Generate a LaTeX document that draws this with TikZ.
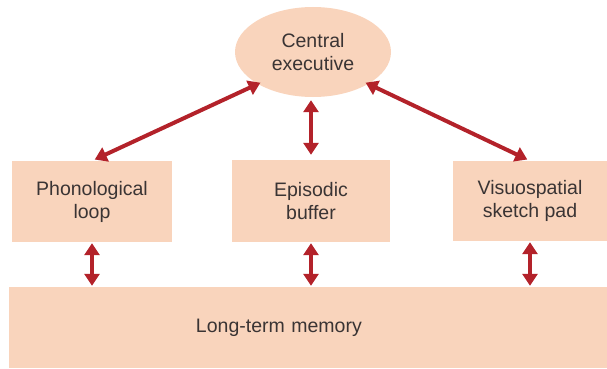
\documentclass[tikz,border=0pt]{standalone}
\usepackage{fontspec}
\setmainfont{Liberation Sans}
\usetikzlibrary{arrows.meta,shapes.geometric}
\definecolor{peach}{HTML}{F9D4BC}
\definecolor{arrred}{HTML}{B3222A}
\definecolor{txt}{HTML}{3A3434}
\begin{document}
\begin{tikzpicture}[x=1pt,y=-1pt,
  box/.style={rectangle,fill=peach,draw=none,inner sep=0pt,align=center,text=txt,font=\fontsize{19.5}{23}\selectfont},
  arr/.style={draw=arrred,line width=4pt,{Triangle[width=15pt,length=12pt]}-{Triangle[width=15pt,length=12pt]}}]
\useasboundingbox (0,0) rectangle (607,369);
\node[box,ellipse,minimum width=156pt,minimum height=90pt] (ce) at (313,52) {Central\\executive};
\node[box,minimum width=160pt,minimum height=81pt] (pl) at (92,201.5) {Phonological\\loop};
\node[box,minimum width=158pt,minimum height=82pt] (eb) at (311,201) {Episodic\\buffer};
\node[box,minimum width=154pt,minimum height=80pt] (vs) at (530,201) {Visuospatial\\sketch pad};
\node[box,minimum width=598pt,minimum height=81pt,text width=598pt,align=left] (ltm) at (308,327.5) {\hspace*{187pt}Long-term memory};
\draw[arr,shorten <=1pt,shorten >=1pt] (pl.south) -- (pl.south |- ltm.north);
\draw[arr,shorten <=1pt,shorten >=1pt] (eb.south) -- (eb.south |- ltm.north);
\draw[arr,shorten <=1pt,shorten >=1pt] (vs.south) -- (vs.south |- ltm.north);
\draw[arr,shorten <=5pt,shorten >=3pt] (eb.north) -- (eb.north |- ce.south);
\draw[arr,shorten <=-3pt,shorten >=3pt] (ce.south west) -- (pl.north);
\draw[arr,shorten <=-3pt,shorten >=3pt] (ce.south east) -- (vs.north);
\end{tikzpicture}
\end{document}
